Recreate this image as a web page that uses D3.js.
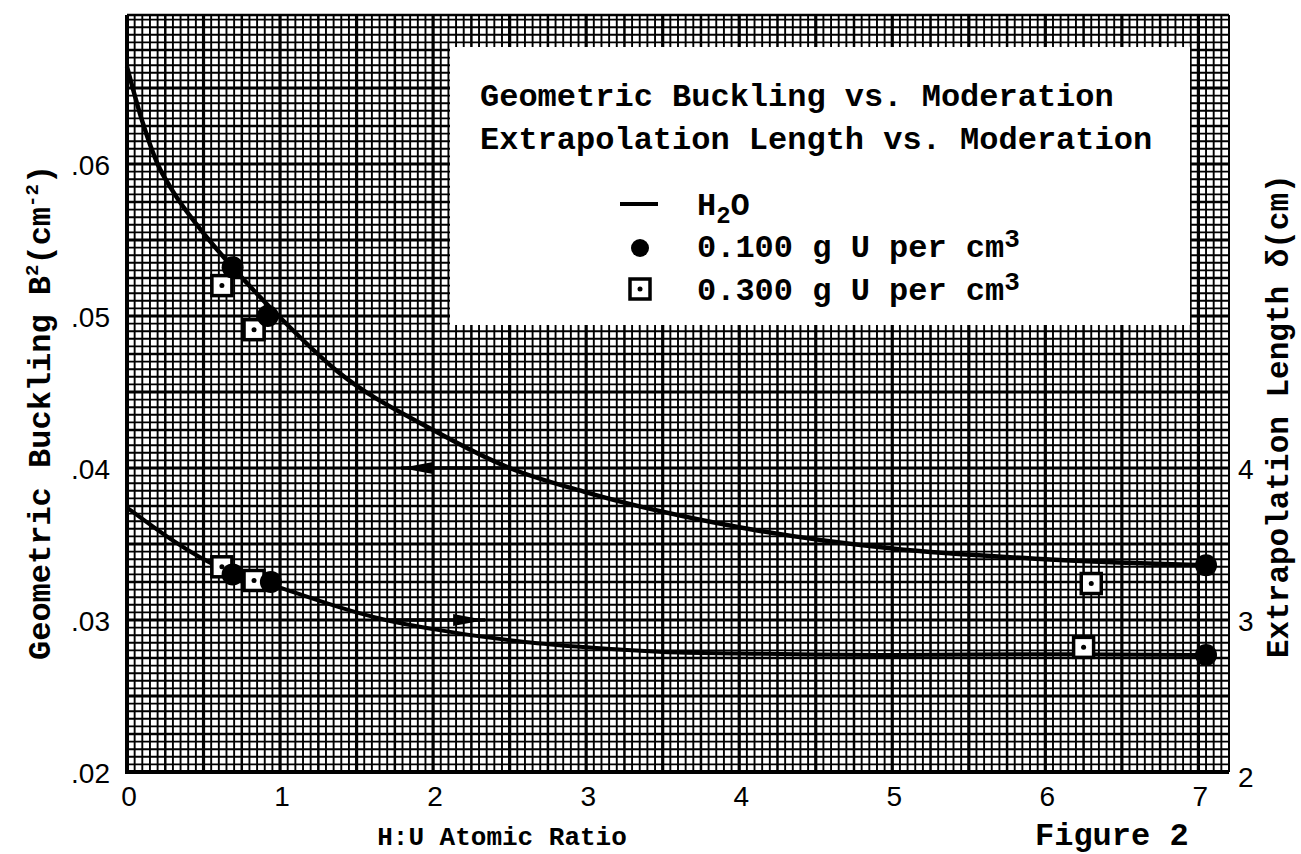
<!DOCTYPE html>
<html>
<head>
<meta charset="utf-8">
<script src="https://cdn.jsdelivr.net/npm/d3@7"></script>
<style>
  body { margin: 0; background: #fff; }
  svg { display: block; }
</style>
</head>
<body>
<div id="chart"></div>
<script>
// values
const xTicks = [0, 1, 2, 3, 4, 5, 6, 7];
const leftTicks = [0.02, 0.03, 0.04, 0.05, 0.06];
const leftTickLabels = [".02", ".03", ".04", ".05", ".06"];
const rightTicks = [2, 3, 4];

// fitted H2O curves [H:U, value]
const bucklingCurve = [[0, 0.0664], [0.1, 0.0628], [0.2, 0.0600], [0.3, 0.0582],
    [0.48, 0.0557], [0.69, 0.0532], [1, 0.0499], [1.37, 0.0464], [2, 0.0425], [2.5, 0.0400],
    [3, 0.0384], [4, 0.0361], [5, 0.0347], [6, 0.0340], [7.05, 0.0336]];
const extrapCurve = [[0, 3.74], [0.62, 3.34], [0.95, 3.23], [1.5, 3.05], [1.69, 3.0], [2, 2.94],
    [2.6, 2.855], [3, 2.82], [3.5, 2.79], [4, 2.78], [5, 2.77], [6, 2.775], [7.05, 2.77]];

// measured points
const buckling100 = [[0.69, 0.0532], [0.92, 0.0500], [7.05, 0.0336]];
const buckling300 = [[0.62, 0.0520], [0.83, 0.0491], [6.3, 0.0324]];
const extrap100 = [[0.69, 3.30], [0.94, 3.25], [7.05, 2.77]];
const extrap300 = [[0.62, 3.35], [0.83, 3.26], [6.25, 2.82]];

// arrows telling which axis each curve belongs to
const arrows = [
    { x1: 2.5, x2: 1.79, y: 0.040, axis: "left" },
    { x1: 1.69, x2: 2.34, y: 3.0, axis: "right" }
];

const width = 1301, height = 854;
const mono = "'Liberation Mono', 'Courier New', monospace";
const sans = "'Liberation Sans', Arial, sans-serif";

const svg = d3.select("#chart")
    .append("svg")
    .attr("width", width)
    .attr("height", height);

const x = d3.scaleLinear().domain([0, 7.2]).range([127, 1229]);
const yL = d3.scaleLinear().domain([0.02, 0.07]).range([772, 12]);
const yR = d3.scaleLinear().domain([2, 7]).range([772, 12]);
const gridTop = 0.0698;

// graph paper
const paper = svg.append("g");
const vLines = d3.range(0, 145).map(i => ({ v: i * 0.05, k: i % 10 === 0 ? 2 : (i % 5 === 0 ? 1 : 0) }));
const hLines = d3.range(0, 100).map(j => ({ v: 0.02 + j * 0.0005, k: j % 10 === 0 ? 2 : (j % 5 === 0 ? 1 : 0) }));
const lw = [1.9, 2.5, 3.2];

paper.selectAll(".vl")
    .data(vLines)
    .enter().append("line")
    .attr("x1", d => x(d.v)).attr("x2", d => x(d.v))
    .attr("y1", yL(0.02)).attr("y2", yL(gridTop))
    .attr("stroke", "#000")
    .attr("stroke-width", d => lw[d.k]);

paper.selectAll(".hl")
    .data(hLines.concat([{ v: gridTop, k: 1 }]))
    .enter().append("line")
    .attr("x1", x(0)).attr("x2", x(7.2))
    .attr("y1", d => yL(d.v)).attr("y2", d => yL(d.v))
    .attr("stroke", "#000")
    .attr("stroke-width", d => lw[d.k]);

paper.append("line")
    .attr("x1", x(7.2)).attr("x2", x(7.2))
    .attr("y1", yL(0.02)).attr("y2", yL(gridTop))
    .attr("stroke", "#000").attr("stroke-width", 2);

// heavy axes
svg.append("line")
    .attr("x1", x(0)).attr("x2", x(0))
    .attr("y1", yL(0.02) + 2).attr("y2", yL(gridTop))
    .attr("stroke", "#000").attr("stroke-width", 4);
svg.append("line")
    .attr("x1", x(0) - 2).attr("x2", x(7.2))
    .attr("y1", yL(0.02)).attr("y2", yL(0.02))
    .attr("stroke", "#000").attr("stroke-width", 4);

// legend box (white patch on the paper)
svg.append("rect")
    .attr("x", 450).attr("y", 47)
    .attr("width", 740).attr("height", 278)
    .attr("fill", "#fff");

// curves
const lineL = d3.line().x(d => x(d[0])).y(d => yL(d[1])).curve(d3.curveMonotoneX);
const lineR = d3.line().x(d => x(d[0])).y(d => yR(d[1])).curve(d3.curveMonotoneX);

svg.append("path")
    .datum(bucklingCurve)
    .attr("fill", "none").attr("stroke", "#000")
    .attr("stroke-width", 4.5)
    .attr("d", lineL);

svg.append("path")
    .datum(extrapCurve)
    .attr("fill", "none").attr("stroke", "#000")
    .attr("stroke-width", 4)
    .attr("d", lineR);

// arrows
arrows.forEach(a => {
    const sc = a.axis === "left" ? yL : yR;
    const yy = sc(a.y);
    const dir = Math.sign(a.x2 - a.x1);
    svg.append("line")
        .attr("x1", x(a.x1)).attr("x2", x(a.x2))
        .attr("y1", yy).attr("y2", yy)
        .attr("stroke", "#000").attr("stroke-width", 3.5);
    const tip = x(a.x2);
    svg.append("path")
        .attr("d", `M${tip},${yy} L${tip - dir * 32},${yy - 6} L${tip - dir * 32},${yy + 6} Z`)
        .attr("fill", "#000");
});

// markers
function squares(data, sc) {
    const g = svg.append("g");
    g.selectAll("rect")
        .data(data)
        .enter().append("rect")
        .attr("x", d => x(d[0]) - 10)
        .attr("y", d => sc(d[1]) - 10)
        .attr("width", 20).attr("height", 20)
        .attr("fill", "#fff").attr("stroke", "#000").attr("stroke-width", 3.5);
    g.selectAll("circle")
        .data(data)
        .enter().append("circle")
        .attr("cx", d => x(d[0]))
        .attr("cy", d => sc(d[1]))
        .attr("r", 2.5).attr("fill", "#000");
}
function dots(data, sc) {
    svg.append("g").selectAll("circle")
        .data(data)
        .enter().append("circle")
        .attr("cx", d => x(d[0]))
        .attr("cy", d => sc(d[1]))
        .attr("r", 11).attr("fill", "#000");
}
squares(buckling300, yL);
squares(extrap300, yR);
dots(buckling100, yL);
dots(extrap100, yR);

// tick labels
svg.append("g").selectAll("text")
    .data(xTicks)
    .enter().append("text")
    .attr("x", d => x(d) + 2)
    .attr("y", 806)
    .attr("text-anchor", "middle")
    .style("font-family", sans).style("font-size", "28px")
    .text(d => d);

svg.append("g").selectAll("text")
    .data(leftTicks)
    .enter().append("text")
    .attr("x", 110)
    .attr("y", d => yL(d))
    .attr("dy", "0.38em")
    .attr("text-anchor", "end")
    .style("font-family", sans).style("font-size", "28px")
    .text((d, i) => leftTickLabels[i]);

svg.append("g").selectAll("text")
    .data(rightTicks)
    .enter().append("text")
    .attr("x", 1238)
    .attr("y", d => yR(d))
    .attr("dy", d => d === 2 ? "0.55em" : "0.38em")
    .attr("text-anchor", "start")
    .style("font-family", sans).style("font-size", "28px")
    .text(d => d);

// axis titles
const leftTitle = svg.append("text")
    .attr("transform", "translate(50,660) rotate(-90)")
    .style("font-family", mono).style("font-size", "32px").style("font-weight", "bold");
leftTitle.append("tspan").text("Geometric Buckling B");
leftTitle.append("tspan").attr("dy", -12).style("font-size", "19px").text("2");
leftTitle.append("tspan").attr("dy", 12).text("(cm");
leftTitle.append("tspan").attr("dy", -12).style("font-size", "19px").text("-2");
leftTitle.append("tspan").attr("dy", 12).text(")");

svg.append("text")
    .attr("transform", "translate(1288,658) rotate(-90)")
    .style("font-family", mono).style("font-size", "31px").style("font-weight", "bold")
    .text("Extrapolation Length δ(cm)");

svg.append("text")
    .attr("x", 502).attr("y", 845)
    .attr("text-anchor", "middle")
    .style("font-family", mono).style("font-size", "26px").style("font-weight", "bold")
    .text("H:U Atomic Ratio");

svg.append("text")
    .attr("x", 1035).attr("y", 845)
    .style("font-family", mono).style("font-size", "32px").style("font-weight", "bold")
    .text("Figure 2");

// legend
const leg = svg.append("g")
    .style("font-family", mono).style("font-size", "32px").style("font-weight", "bold");
leg.append("text").attr("x", 480).attr("y", 106).text("Geometric Buckling vs. Moderation");
leg.append("text").attr("x", 480).attr("y", 149).text("Extrapolation Length vs. Moderation");

leg.append("line")
    .attr("x1", 620).attr("x2", 658).attr("y1", 204).attr("y2", 204)
    .attr("stroke", "#000").attr("stroke-width", 4);
const h2o = leg.append("text").attr("x", 697).attr("y", 215);
h2o.append("tspan").text("H");
h2o.append("tspan").attr("dy", 8).style("font-size", "24px").text("2");
h2o.append("tspan").attr("dy", -8).text("O");

leg.append("circle").attr("cx", 640).attr("cy", 248).attr("r", 9).attr("fill", "#000");
const t1 = leg.append("text").attr("x", 697).attr("y", 257);
t1.append("tspan").text("0.100 g U per cm");
t1.append("tspan").attr("dy", -10).style("font-size", "26px").text("3");

leg.append("rect").attr("x", 630).attr("y", 279).attr("width", 20).attr("height", 20)
    .attr("fill", "#fff").attr("stroke", "#000").attr("stroke-width", 3.5);
leg.append("circle").attr("cx", 640).attr("cy", 289).attr("r", 2.5).attr("fill", "#000");
const t2 = leg.append("text").attr("x", 697).attr("y", 300);
t2.append("tspan").text("0.300 g U per cm");
t2.append("tspan").attr("dy", -10).style("font-size", "26px").text("3");
</script>
</body>
</html>
